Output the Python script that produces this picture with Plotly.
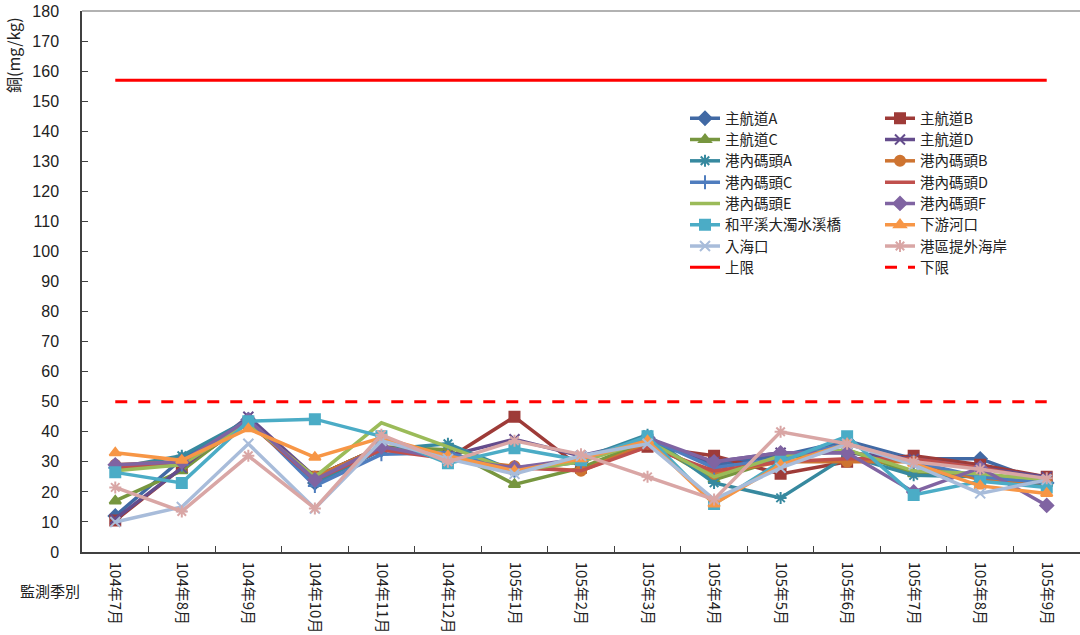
import plotly.graph_objects as go

months = ["104年7月", "104年8月", "104年9月", "104年10月", "104年11月", "104年12月",
          "105年1月", "105年2月", "105年3月", "105年4月", "105年5月", "105年6月",
          "105年7月", "105年8月", "105年9月"]

main_A = [12, 31, 44, 23, 34, 32, 28, 30, 38, 29, 32, 37, 31, 31, 23]
main_B = [10.5, 28, 43, 25, 35, 31, 45, 28, 35, 32, 26, 30, 32, 29, 25]
main_C = [17, 27, 44, 25, 35, 34, 22.5, 28, 37, 24, 31, 34, 26, 25, 23]
main_D = [11, 28, 45, 25, 35, 32, 37.5, 32, 37, 30, 33, 33, 31, 28, 25]
wharf_A = [28, 32, 44, 23, 34, 36, 27, 31, 39, 23, 18, 32, 25.5, 25, 22]
wharf_B = [29, 30, 43, 25, 35, 31, 28.5, 27, 36, 26, 30, 30, 30, 24, 23]
wharf_C = [28, 29, 44, 22, 32.5, 33, 27, 30, 38, 28, 31, 36, 30, 25, 23]
wharf_D = [28, 29, 43, 24, 34, 31, 28, 27, 35, 27, 30, 31, 31, 28, 24]
wharf_E = [27, 29, 43, 25, 43, 35, 27, 30, 37, 25, 32, 34, 27, 26, 24]
wharf_F = [29, 30, 44, 24, 35, 31, 28, 31, 38, 30, 33, 33, 20, 28, 15.5]
bridge = [26.5, 23, 43.5, 44.2, 38.5, 29.5, 34.5, 30.5, 38.5, 16, 30, 38.5, 19, 23.5, 21.5]
downstream = [33, 30.5, 41, 31.5, 38, 32, 27, 31, 37, 16, 29, 36, 29.5, 22, 19.5]
estuary = [10, 15, 36, 14.5, 37, 31, 26, 32, 36, 17.5, 28, 36, 29, 19.5, 24]
coast = [21.5, 13.5, 32, 14.5, 39, 30, 37, 32.5, 25, 17.5, 40, 36, 30, 27.5, 24.5]
upper_limit = [157] * 15
lower_limit = [50] * 15
y_ticks = list(range(0, 181, 10))

series = [
    ("主航道A", main_A, "#4169A4", "diamond"),
    ("主航道B", main_B, "#9E3B38", "square"),
    ("主航道C", main_C, "#77963F", "triangle-up"),
    ("主航道D", main_D, "#644C8C", "x-thin-open"),
    ("港內碼頭A", wharf_A, "#37899F", "asterisk-open"),
    ("港內碼頭B", wharf_B, "#CE7431", "circle"),
    ("港內碼頭C", wharf_C, "#4F7DBE", "cross-thin-open"),
    ("港內碼頭D", wharf_D, "#C0504D", None),
    ("港內碼頭E", wharf_E, "#9BBB59", None),
    ("港內碼頭F", wharf_F, "#8064A2", "diamond"),
    ("和平溪大濁水溪橋", bridge, "#4BACC6", "square"),
    ("下游河口", downstream, "#F79646", "triangle-up"),
    ("入海口", estuary, "#A8BCDA", "x-thin-open"),
    ("港區提外海岸", coast, "#D9A6A5", "asterisk-open"),
]

FONT = "Noto Sans CJK TC"
NUM_FONT = "Liberation Sans"
fig = go.Figure()

# Each legend entry gets its own legend box so the two-column layout and
# row spacing of the original can be reproduced.
def legend_name(i):
    return "legend" if i == 0 else "legend%d" % (i + 1)

for i, (name, vals, color, sym) in enumerate(series):
    if sym is None:
        fig.add_trace(go.Scatter(x=months, y=vals, name=name, mode="lines",
                                 line=dict(color=color, width=3.5),
                                 legend=legend_name(i)))
    else:
        fig.add_trace(go.Scatter(x=months, y=vals, name=name, mode="lines+markers",
                                 line=dict(color=color, width=3.5),
                                 marker=dict(symbol=sym, size=10, color=color,
                                             line=dict(color=color, width=2)),
                                 legend=legend_name(i)))

fig.add_trace(go.Scatter(x=months, y=upper_limit, name="上限", mode="lines",
                         line=dict(color="#FF0000", width=3), legend=legend_name(14)))
fig.add_trace(go.Scatter(x=months, y=lower_limit, name="下限", mode="lines",
                         line=dict(color="#FF0000", width=3, dash="12px,11px"),
                         legend=legend_name(15)))

# layout geometry (pixels)
W, H = 1080, 635
ML, MR, MT, MB = 82, 0, 11, 83
plot_w = W - ML - MR
plot_h = H - MT - MB
col_x_px = [685, 880]
row0_px, row_gap_px, top_offset_px = 118.3, 21.3, 16
LEG_FONT = 14.5

legends = {}
for i in range(16):
    col = i % 2
    row = i // 2
    top_px = row0_px + row * row_gap_px - top_offset_px
    legends[legend_name(i)] = dict(
        x=(col_x_px[col] - ML) / plot_w,
        y=(H - MB - top_px) / plot_h,
        xanchor="left", yanchor="top",
        font=dict(family=FONT, size=LEG_FONT, color="#222"),
        bgcolor="rgba(0,0,0,0)", borderwidth=0)

fig.update_layout(
    width=W, height=H,
    margin=dict(l=ML, r=MR, t=MT, b=MB, autoexpand=False),
    paper_bgcolor="white", plot_bgcolor="white",
    font=dict(family=FONT, size=15, color="#222"),
    showlegend=True,
    xaxis=dict(type="category", range=[-0.5, 14.5], tickson="boundaries",
               ticks="inside", ticklen=6, tickcolor="#404040",
               showline=True, linecolor="#404040", linewidth=1.5,
               showgrid=False, zeroline=False, tickangle=90, automargin=False,
               ticklabelstandoff=5,
               tickfont=dict(family=FONT, size=15, color="#222")),
    yaxis=dict(range=[0, 180.02], tickmode="array", tickvals=y_ticks,
               ticks="inside", ticklen=6, ticklabeloverflow="allow",
               tickcolor="#404040", showline=True, linecolor="#404040",
               linewidth=1.5, showgrid=False, zeroline=False, automargin=False,
               ticklabelstandoff=18,
               tickfont=dict(family=NUM_FONT, size=16, color="#222")),
    shapes=[dict(type="line", xref="paper", yref="paper", x0=0, x1=1, y0=1, y1=1,
                 line=dict(color="#999999", width=1.5))],
    annotations=[
        dict(text="監測季別", xref="paper", yref="paper", x=0, y=0,
             xanchor="center", yanchor="middle", xshift=-32, yshift=-38,
             showarrow=False, font=dict(family=FONT, size=15, color="#222")),
        dict(text="銅(mg/kg)", xref="paper", yref="paper", x=0, y=0.917,
             xanchor="center", yanchor="middle", xshift=-69, textangle=-90,
             showarrow=False, font=dict(family=FONT, size=16, color="#222")),
    ],
    **legends,
)

fig.write_html("out.html", config={"displayModeBar": False},
               post_script="document.body.style.margin='0';")
